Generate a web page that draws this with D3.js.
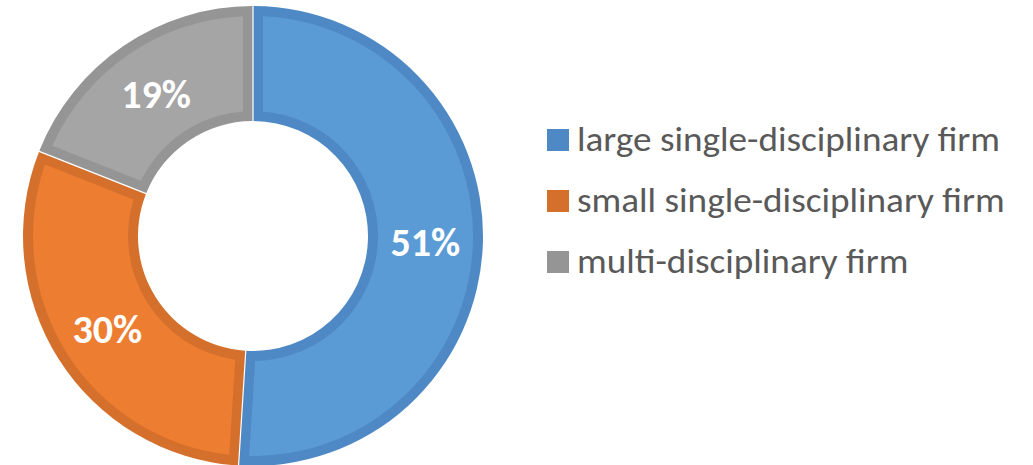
<!DOCTYPE html>
<html>
<head>
<meta charset="utf-8">
<script src="https://cdn.jsdelivr.net/npm/d3@7"></script>
<style>
  body { margin: 0; background: #fff; }
  text { font-family: Carlito, "Open Sans", sans-serif; }
</style>
</head>
<body>
<div id="chart-area"></div>
<script>

// data
var categories = ["large single-disciplinary firm", "small single-disciplinary firm", "multi-disciplinary firm"];
var shares = [51, 30, 19];
var fills = ["#5B9BD5", "#ED7D31", "#A5A5A5"];
var borders = ["#4F89C5", "#D5702C", "#959595"];

var width = 1033, height = 465;

var svg = d3.select("#chart-area").append("svg")
    .attr("width", width)
    .attr("height", height);

var cx = 253, cy = 236,
    outer = 230, inner = 115, band = 10;

var pie = d3.pie().sort(null).value(function(d) { return d; });
var arcs = pie(shares);

var outerArc = d3.arc()
    .innerRadius(inner)
    .outerRadius(outer)
    .padRadius(200)
    .padAngle(0.006);

var innerArc = d3.arc()
    .innerRadius(inner + band)
    .outerRadius(outer - band)
    .padRadius(200)
    .padAngle(band * 2 / 200);

var donut = svg.append("g")
    .attr("transform", "translate(" + cx + "," + cy + ")");

var slice = donut.selectAll("g.slice").data(arcs)
  .enter().append("g")
    .attr("class", "slice");

slice.append("path")
    .attr("d", outerArc)
    .attr("fill", function(d, i) { return borders[i]; });

slice.append("path")
    .attr("d", innerArc)
    .attr("fill", function(d, i) { return fills[i]; });

// percent labels
var labelArc = d3.arc().innerRadius(inner).outerRadius(outer);
slice.append("text")
    .attr("transform", function(d) {
      var c = labelArc.centroid(d);
      return "translate(" + c[0] + "," + (c[1] + 15) + ")";
    })
    .attr("text-anchor", "middle")
    .attr("fill", "#fff")
    .attr("font-weight", "bold")
    .attr("font-size", 40)
    .text(function(d) { return d.data + "%"; });

// legend
var legend = svg.append("g")
    .attr("transform", "translate(547,129)");

var row = legend.selectAll("g").data(categories)
  .enter().append("g")
    .attr("transform", function(d, i) { return "translate(0," + (i * 61) + ")"; });

row.append("rect")
    .attr("width", 22)
    .attr("height", 22)
    .attr("fill", function(d, i) { return borders[i]; });

var labels = row.append("text")
    .attr("x", 30)
    .attr("y", 22)
    .attr("font-size", 35)
    .attr("fill", "#595959")
    .text(function(d) { return d; });

// squeeze to the width of the original (Calibri-like) legend
var natural = labels.node().getComputedTextLength();
var k = 423 / natural;
labels.each(function() {
  var w = this.getComputedTextLength();
  d3.select(this).attr("textLength", w * k).attr("lengthAdjust", "spacingAndGlyphs");
});

</script>
</body>
</html>
